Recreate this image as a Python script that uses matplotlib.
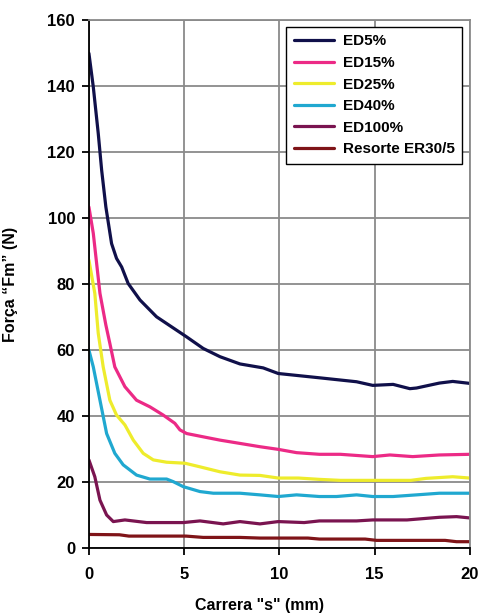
import matplotlib.pyplot as plt

plt.rcParams['font.family'] = ['Liberation Sans Narrow', 'Liberation Sans', 'DejaVu Sans']
plt.rcParams['font.weight'] = 'bold'

# Carrera "s" (mm) vs Força "Fm" (N)
x_ed5 = [0, 0.23, 0.49, 0.67, 0.89, 1.19, 1.45, 1.72, 2.06, 2.68, 3.55, 5.13, 6.0, 6.88, 7.93,
         9.15, 9.94, 12.1, 14.05, 14.9, 15.97, 16.85, 17.2, 18.4, 19.1, 20]
y_ed5 = [150, 139.8, 125.7, 114.5, 103.4, 92.3, 87.8, 85.2, 80.2, 75.2, 70.1, 64.0, 60.5, 58.0, 55.8,
         54.6, 52.9, 51.6, 50.4, 49.3, 49.6, 48.3, 48.5, 50.0, 50.5, 49.9]

x_ed15 = [0, 0.23, 0.58, 0.89, 1.1, 1.36, 1.89, 2.5, 3.2, 3.9, 4.51, 4.78, 5.13, 6.0, 6.88, 7.93,
          8.98, 9.94, 10.9, 12.1, 13.2, 14.9, 15.8, 17.0, 18.4, 20]
y_ed15 = [103.4, 95.4, 77.2, 67.6, 62.0, 54.9, 48.9, 44.8, 42.8, 40.3, 37.8, 35.8, 34.7, 33.7, 32.7, 31.7,
          30.7, 29.9, 28.9, 28.4, 28.4, 27.7, 28.2, 27.7, 28.2, 28.4]

x_ed25 = [0, 0.31, 0.49, 0.75, 1.1, 1.45, 1.89, 2.33, 2.85, 3.38, 4.08, 5.04, 5.83, 6.88, 7.93,
          8.98, 9.94, 11.0, 12.1, 13.2, 14.9, 16.9, 17.7, 19.1, 20]
y_ed25 = [87.3, 77.2, 65.1, 54.9, 44.8, 40.3, 37.3, 32.7, 28.7, 26.7, 26.0, 25.7, 24.6, 23.1, 22.1,
          22.0, 21.2, 21.2, 20.8, 20.5, 20.5, 20.5, 21.1, 21.6, 21.2]

x_ed40 = [0, 0.23, 0.58, 0.93, 1.36, 1.8, 2.5, 3.2, 4.08, 4.43, 4.95, 5.83, 6.53, 7.93,
          8.98, 9.94, 10.9, 12.1, 13.0, 14.05, 14.9, 15.97, 17.2, 18.4, 20]
y_ed40 = [60, 54.9, 44.8, 34.7, 28.7, 25.2, 22.1, 20.9, 20.9, 20.1, 18.6, 17.1, 16.6, 16.6,
          16.1, 15.6, 16.1, 15.6, 15.6, 16.1, 15.6, 15.6, 16.1, 16.6, 16.6]

x_ed100 = [0, 0.31, 0.58, 0.93, 1.28, 1.89, 3.03, 4.95, 5.83, 7.05, 7.93, 8.98, 9.94, 11.3, 12.1,
           14.05, 14.9, 16.7, 18.4, 19.3, 20]
y_ed100 = [26.7, 21.6, 14.5, 10.0, 8.0, 8.5, 7.7, 7.7, 8.2, 7.3, 8.0, 7.3, 8.0, 7.7, 8.2,
           8.2, 8.5, 8.5, 9.3, 9.5, 9.1]

x_res = [0, 1.6, 2.1, 5.1, 6.0, 7.93, 8.98, 11.5, 12.1, 14.5, 15.1, 18.7, 19.3, 20]
y_res = [4.1, 4.0, 3.6, 3.6, 3.2, 3.2, 3.0, 3.0, 2.7, 2.7, 2.3, 2.3, 1.9, 1.9]

series = [
    (x_ed5, y_ed5, '#10104a', 'ED5%'),
    (x_ed15, y_ed15, '#ec2a86', 'ED15%'),
    (x_ed25, y_ed25, '#eeec2c', 'ED25%'),
    (x_ed40, y_ed40, '#20a8d0', 'ED40%'),
    (x_ed100, y_ed100, '#7a1450', 'ED100%'),
    (x_res, y_res, '#7f1418', 'Resorte ER30/5'),
]

fig = plt.figure(figsize=(4.78, 6.15), dpi=100)
ax = fig.add_axes([0.186, 0.109, 0.797, 0.858])

for xs, ys, c, lab in series:
    ax.plot(xs, ys, color=c, lw=2.3, label=lab, solid_capstyle='round')

ax.set_xlim(0, 20)
ax.set_ylim(0, 160)
ax.set_xticks([0, 5, 10, 15, 20])
ax.set_yticks(range(0, 161, 20))
ax.grid(True, color='#8a8a8a', lw=1.3)
ax.set_axisbelow(True)
for s in ['top', 'right']:
    ax.spines[s].set_color('#8a8a8a')
    ax.spines[s].set_linewidth(1.3)
for s in ['left', 'bottom']:
    ax.spines[s].set_color('black')
    ax.spines[s].set_linewidth(1.3)
ax.tick_params(axis='both', direction='out', length=5, width=1.3, labelsize=12)
ax.tick_params(axis='x', pad=9)
ax.tick_params(axis='y', pad=5)
for t in ax.get_xticklabels() + ax.get_yticklabels():
    t.set_fontweight('bold')

ax.set_xlabel('Carrera "s" (mm)', fontsize=11.5, fontweight='bold')
ax.xaxis.set_label_coords(0.449, -0.095)
ax.set_ylabel('Força “Fm” (N)', fontsize=11.5, fontweight='bold')
ax.yaxis.set_label_coords(-0.185, 0.5)

leg = ax.legend(loc='upper right', bbox_to_anchor=(0.98, 0.988), fontsize=11, frameon=True,
                fancybox=False, edgecolor='black', framealpha=1, handlelength=2.6,
                handletextpad=0.6, labelspacing=0.5, borderpad=0.5, borderaxespad=0)
leg.get_frame().set_linewidth(1.0)
for t in leg.get_texts():
    t.set_fontweight('bold')

plt.savefig('out.png', dpi=100)
